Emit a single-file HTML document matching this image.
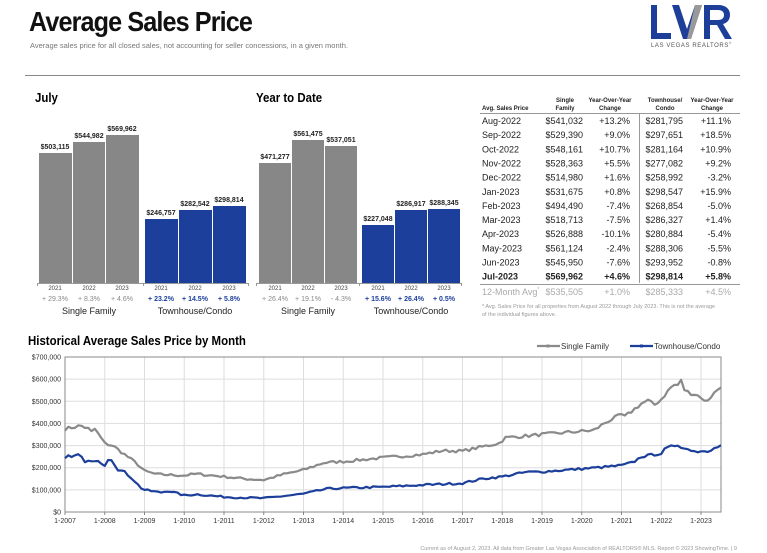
<!DOCTYPE html>
<html><head><meta charset="utf-8"><style>
body{margin:0;width:767px;height:553px;background:#fff;font-family:"Liberation Sans",sans-serif;position:relative;overflow:hidden}
.a{position:absolute;white-space:nowrap}
</style></head><body>
<div class="a" style="left:29px;top:6px;font-size:28px;font-weight:bold;letter-spacing:-1px;transform:scaleX(0.9);transform-origin:left;color:#111">Average Sales Price</div>
<div class="a" style="left:30px;top:41px;font-size:7.5px;color:#777">Average sales price for all closed sales, not accounting for seller concessions, in a given month.</div>
<svg class="a" style="left:648px;top:4px" width="90" height="36" viewBox="0 0 90 36">
<path d="M3 1h6v28h14v6H3z" fill="#1d3f9a"/>
<path d="M24 1h7l8 24 8-24h7L43 35h-8z" fill="#1d3f9a"/>
<path d="M47 1h7L43 35h-4z" fill="#999"/>
<path d="M56 1h14c8 0 12 4 12 10 0 5-3 8-7 9l9 15h-7l-8-14h-7v14h-6zM62 6v10h8c4 0 6-2 6-5s-2-5-6-5z" fill="#1d3f9a"/>
</svg>
<div class="a" style="left:651px;top:41px;font-size:6px;color:#555;letter-spacing:0.6px">LAS VEGAS REALTORS<sup style="font-size:3px">®</sup></div>
<div class="a" style="left:25px;top:75px;width:715px;height:1px;background:#888"></div>

<div class="a" style="left:35px;top:90px;font-size:13px;font-weight:bold;transform:scaleX(0.88);transform-origin:left">July</div>
<div class="a" style="left:256px;top:90px;font-size:13px;font-weight:bold;transform:scaleX(0.88);transform-origin:left">Year to Date</div>
<svg class="a" style="left:0;top:100px" width="470" height="220" viewBox="0 100 470 220" font-family="Liberation Sans" >
<g fill="#878787">
<rect x="39" y="153" width="33" height="130"/><rect x="73" y="142" width="32" height="141"/><rect x="106" y="135" width="33" height="148"/>
<rect x="259" y="163" width="32" height="120"/><rect x="292" y="140" width="32" height="143"/><rect x="325" y="146" width="32" height="137"/>
</g>
<g fill="#1c3f9b">
<rect x="145" y="219" width="33" height="64"/><rect x="179" y="210" width="33" height="73"/><rect x="213" y="206" width="33" height="77"/>
<rect x="362" y="225" width="32" height="58"/><rect x="395" y="210" width="32" height="73"/><rect x="428" y="209" width="32" height="74"/>
</g>
<g stroke="#999" stroke-width="1"><line x1="37" y1="283.5" x2="249" y2="283.5"/><line x1="256" y1="283.5" x2="462" y2="283.5"/>
<line x1="37.5" y1="283" x2="37.5" y2="286"/><line x1="143.5" y1="283" x2="143.5" y2="286"/><line x1="248.5" y1="283" x2="248.5" y2="286"/>
<line x1="256.5" y1="283" x2="256.5" y2="286"/><line x1="359.5" y1="283" x2="359.5" y2="286"/><line x1="461.5" y1="283" x2="461.5" y2="286"/></g>
<g font-size="7" font-weight="bold" fill="#222" text-anchor="middle">
<text x="55" y="149">$503,115</text><text x="89" y="138">$544,982</text><text x="122" y="131">$569,962</text>
<text x="161" y="215">$246,757</text><text x="195" y="206">$282,542</text><text x="229" y="202">$298,814</text>
<text x="275" y="159">$471,277</text><text x="308" y="136">$561,475</text><text x="341" y="142">$537,051</text>
<text x="378" y="221">$227,048</text><text x="411" y="206">$286,917</text><text x="444" y="205">$288,345</text>
</g>
<g font-size="6" fill="#444" text-anchor="middle">
<text x="55" y="290">2021</text><text x="89" y="290">2022</text><text x="122" y="290">2023</text>
<text x="161" y="290">2021</text><text x="195" y="290">2022</text><text x="229" y="290">2023</text>
<text x="275" y="290">2021</text><text x="308" y="290">2022</text><text x="341" y="290">2023</text>
<text x="378" y="290">2021</text><text x="411" y="290">2022</text><text x="444" y="290">2023</text>
</g>
<g font-size="7" text-anchor="middle">
<g fill="#888"><text x="55" y="301">+ 29.3%</text><text x="89" y="301">+ 8.3%</text><text x="122" y="301">+ 4.6%</text>
<text x="275" y="301">+ 26.4%</text><text x="308" y="301">+ 19.1%</text><text x="341" y="301">- 4.3%</text></g>
<g fill="#1c3f9b" font-weight="bold"><text x="161" y="301">+ 23.2%</text><text x="195" y="301">+ 14.5%</text><text x="229" y="301">+ 5.8%</text>
<text x="378" y="301">+ 15.6%</text><text x="411" y="301">+ 26.4%</text><text x="444" y="301">+ 0.5%</text></g>
</g>
<g font-size="9" fill="#222" text-anchor="middle"><text x="89" y="314">Single Family</text><text x="195" y="314">Townhouse/Condo</text>
<text x="308" y="314">Single Family</text><text x="411" y="314">Townhouse/Condo</text></g>
</svg>

<svg class="a" style="left:470px;top:90px" width="297" height="235" viewBox="470 90 297 235" font-family="Liberation Sans">
<g font-size="6" font-weight="bold" fill="#222" text-anchor="middle">
<text x="482" y="110" text-anchor="start">Avg. Sales Price</text>
<text x="565" y="102">Single</text><text x="565" y="110">Family</text>
<text x="610" y="102">Year-Over-Year</text><text x="610" y="110">Change</text>
<text x="665" y="102">Townhouse/</text><text x="665" y="110">Condo</text>
<text x="712" y="102">Year-Over-Year</text><text x="712" y="110">Change</text>
</g>
<line x1="480" y1="113.5" x2="740" y2="113.5" stroke="#999"/>
<line x1="639.5" y1="114" x2="639.5" y2="283" stroke="#999"/>
<line x1="480" y1="284.5" x2="740" y2="284.5" stroke="#999"/>
<g id="rows" font-size="9" fill="#222"></g>
<g font-size="9" fill="#aaa">
<text x="482" y="295">12-Month Avg<tspan font-size="5" dy="-4">*</tspan></text>
<text x="583" y="295" text-anchor="end">$535,505</text><text x="630" y="295" text-anchor="end">+1.0%</text>
<text x="683" y="295" text-anchor="end">$285,333</text><text x="731" y="295" text-anchor="end">+4.5%</text>
</g>
<g font-size="5.5" fill="#999"><text x="482" y="308">* Avg. Sales Price for all properties from August 2022 through July 2023. This is not the average</text>
<text x="482" y="316">of the individual figures above.</text></g>
</svg>

<div class="a" style="left:28px;top:333px;font-size:13px;font-weight:bold;transform:scaleX(0.88);transform-origin:left">Historical Average Sales Price by Month</div>
<svg class="a" style="left:0;top:340px" width="767" height="213" viewBox="0 340 767 213" font-family="Liberation Sans">
<g id="grid" stroke="#ddd" stroke-width="1"></g>
<rect x="65" y="357" width="656" height="155" fill="none" stroke="#888"/>
<g id="lab" font-size="7" fill="#333"></g>
<polyline id="sf" fill="none" stroke="#8a8a8a" stroke-width="2.2" stroke-linejoin="round"/>
<polyline id="tc" fill="none" stroke="#1c3f9b" stroke-width="2.2" stroke-linejoin="round"/>
<line x1="537" y1="346" x2="560" y2="346" stroke="#8a8a8a" stroke-width="2.2"/><rect x="546.5" y="344.5" width="3" height="3" fill="#8a8a8a"/>
<text x="561" y="349" font-size="8" fill="#333">Single Family</text>
<line x1="630" y1="346" x2="653" y2="346" stroke="#1c3f9b" stroke-width="2.2"/><rect x="640" y="344.5" width="3" height="3" fill="#1c3f9b"/>
<text x="654" y="349" font-size="8" fill="#333">Townhouse/Condo</text>
<text x="737" y="550" font-size="5.5" fill="#999" text-anchor="end">Current as of August 2, 2023. All data from Greater Las Vegas Association of REALTORS® MLS. Report © 2023 ShowingTime.  |  9</text>
</svg>
<script>
var ns="http://www.w3.org/2000/svg";
function el(p,t,a,txt){var e=document.createElementNS(ns,t);for(var k in a)e.setAttribute(k,a[k]);if(txt)e.textContent=txt;p.appendChild(e);return e;}
var rows=[["Aug-2022","$541,032","+13.2%","$281,795","+11.1%"],["Sep-2022","$529,390","+9.0%","$297,651","+18.5%"],["Oct-2022","$548,161","+10.7%","$281,164","+10.9%"],["Nov-2022","$528,363","+5.5%","$277,082","+9.2%"],["Dec-2022","$514,980","+1.6%","$258,992","-3.2%"],["Jan-2023","$531,675","+0.8%","$298,547","+15.9%"],["Feb-2023","$494,490","-7.4%","$268,854","-5.0%"],["Mar-2023","$518,713","-7.5%","$286,327","+1.4%"],["Apr-2023","$526,888","-10.1%","$280,884","-5.4%"],["May-2023","$561,124","-2.4%","$288,306","-5.5%"],["Jun-2023","$545,950","-7.6%","$293,952","-0.8%"],["Jul-2023","$569,962","+4.6%","$298,814","+5.8%"]];
var g=document.getElementById("rows"),xs=[482,583,630,683,731];
rows.forEach(function(r,i){var y=124+i*14.15;r.forEach(function(c,j){var a={x:xs[j],y:y};if(j>0)a["text-anchor"]="end";if(i==11)a["font-weight"]="bold";el(g,"text",a,c);});});
var gr=document.getElementById("grid"),lb=document.getElementById("lab");
function X(t){return 65+(t-2007)*39.75;}function Y(v){return 512-v*155/700;}
for(var i=0;i<=7;i++){var y=Y(i*100);if(i>0&&i<7)el(gr,"line",{x1:65,x2:721,y1:y,y2:y});el(lb,"text",{x:61,y:y+2.5,"text-anchor":"end"},i==0?"$0":"$"+i*100+",000");}
for(var yr=2007;yr<=2023;yr++){var x=X(yr);if(yr>2007)el(gr,"line",{x1:x,x2:x,y1:357,y2:512});el(gr,"line",{x1:x,x2:x,y1:512,y2:515,stroke:"#888"});el(lb,"text",{x:x,y:523,"text-anchor":"middle"},"1-"+yr);}
var SF=[[2007,375],[2007.4,390],[2007.6,375],[2007.7,355],[2007.75,375],[2008,310],[2008.2,300],[2008.5,260],[2008.8,220],[2009,185],[2009.3,170],[2010,165],[2010.3,172],[2011,160],[2011.5,150],[2012,145],[2012.5,170],[2013,190],[2013.5,222],[2014,228],[2015,245],[2016,260],[2016.5,277],[2017,275],[2017.5,295],[2017.95,312],[2018.05,335],[2019,350],[2020,365],[2020.3,368],[2020.6,405],[2021,440],[2021.05,425],[2021.5,490],[2021.7,505],[2021.8,480],[2022,510],[2022.3,575],[2022.4,570],[2022.5,592],[2022.6,545],[2022.8,535],[2023,520],[2023.1,495],[2023.3,530],[2023.5,570]];
var TC=[[2007,240],[2007.1,255],[2007.2,238],[2007.3,265],[2007.5,230],[2007.9,225],[2008,212],[2008.1,245],[2008.2,235],[2008.3,195],[2008.5,180],[2008.7,150],[2008.9,110],[2009,100],[2009.4,88],[2009.6,96],[2010,75],[2010.3,80],[2011,68],[2012,62],[2012.5,72],[2013,82],[2013.6,105],[2014,108],[2015,113],[2016,122],[2017,130],[2017.5,150],[2018,160],[2018.6,180],[2019,182],[2020,195],[2020.5,202],[2021,210],[2021.3,225],[2021.5,250],[2022,265],[2022.1,285],[2022.4,305],[2022.6,285],[2022.9,275],[2022.95,260],[2023.05,295],[2023.1,272],[2023.5,298]];
var seed=7;function rnd(){seed=(seed*16807)%2147483647;return seed/2147483647-0.5;}
function interp(k,t){for(var i=0;i<k.length-1;i++){if(t<=k[i+1][0]){var f=(t-k[i][0])/(k[i+1][0]-k[i][0]);return k[i][1]+f*(k[i+1][1]-k[i][1]);}}return k[k.length-1][1];}
function pts(k,amp){var s=[];for(var m=0;m<=198;m++){var t=2007+m/12;var v=interp(k,t)+rnd()*amp*(1+interp(k,t)/400);s.push(X(t).toFixed(1)+","+Y(v).toFixed(1));}return s.join(" ");}
document.getElementById("sf").setAttribute("points",pts(SF,8));
document.getElementById("tc").setAttribute("points",pts(TC,7));
</script>
</body></html>
